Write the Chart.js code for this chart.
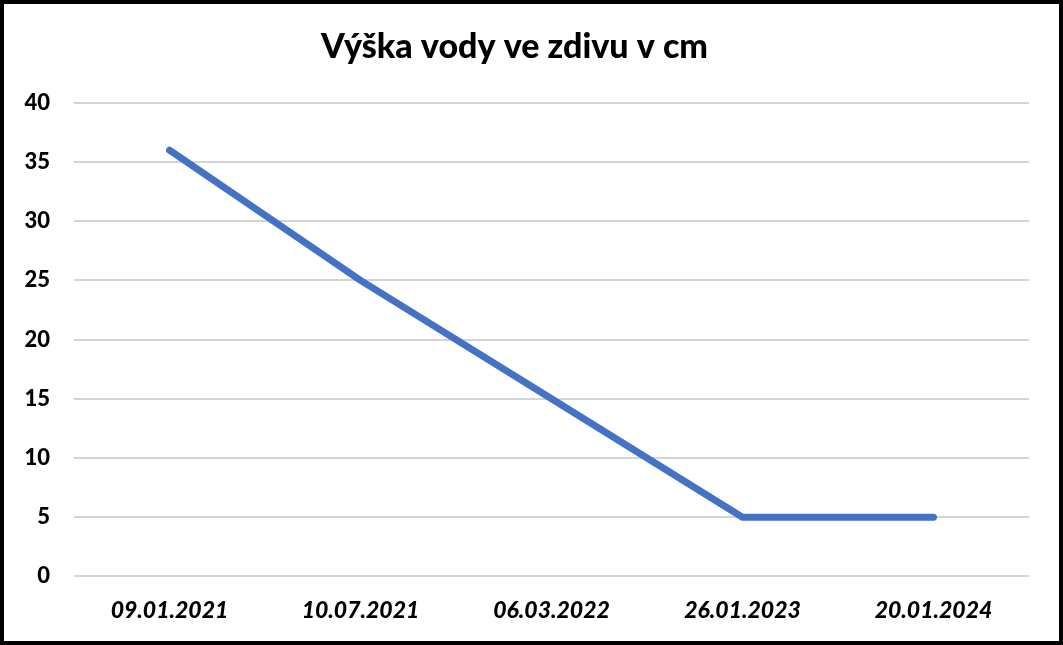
<!DOCTYPE html>
<html>
<head>
<meta charset="utf-8">
<script src="https://cdn.jsdelivr.net/npm/chart.js@4"></script>
<style>
  html, body { margin: 0; padding: 0; background: #fff; }
  #wrap { position: relative; width: 1063px; height: 645px; }
  #chart { position: absolute; left: 0; top: 0; }
  #frame { position: absolute; left: 0; top: 0; width: 1063px; height: 645px; box-sizing: border-box; border: 4px solid #000; pointer-events: none; }
</style>
</head>
<body>
<div id="wrap">
  <canvas id="chart" width="1063" height="645"></canvas>
  <div id="frame"></div>
</div>
<script>
/* data */
const dates = ['09.01.2021', '10.07.2021', '06.03.2022', '26.01.2023', '20.01.2024'];
const heights = [36, 25, 15, 5, 5];
const yTicks = [0, 5, 10, 15, 20, 25, 30, 35, 40];

const FONT = 'Lato, "Open Sans", sans-serif';

new Chart(document.getElementById('chart'), {
  type: 'line',
  data: {
    labels: dates,
    datasets: [{
      label: 'Výška vody',
      data: heights,
      borderColor: '#4472c4',
      borderWidth: 7,
      borderCapStyle: 'round',
      borderJoinStyle: 'round',
      pointRadius: 0,
      tension: 0,
      fill: false
    }]
  },
  options: {
    responsive: false,
    animation: false,
    layout: { padding: { left: 0, right: 34, top: 15, bottom: 1 } },
    plugins: {
      legend: { display: false },
      tooltip: { enabled: false },
      title: {
        display: true,
        text: 'Výška vody ve zdivu v cm',
        color: '#000',
        font: { family: FONT, size: 34, weight: '900' },
        padding: { top: 12, bottom: 35 }
      }
    },
    scales: {
      x: {
        offset: true,
        grid: { display: false, drawTicks: false },
        border: { display: false },
        ticks: {
          color: '#000',
          padding: 20,
          maxRotation: 0,
          font: { family: FONT, size: 23, weight: '900', style: 'italic' }
        }
      },
      y: {
        min: yTicks[0],
        max: yTicks[yTicks.length - 1],
        afterFit(scale) { scale.width = 74; },
        afterBuildTicks(scale) { scale.ticks = yTicks.map(v => ({ value: v })); },
        grid: { color: '#d4d4d4', lineWidth: 2, drawTicks: false },
        border: { display: false },
        ticks: {
          color: '#000',
          padding: 24,
          font: { family: FONT, size: 22, weight: '900' }
        }
      }
    }
  }
});
</script>
</body>
</html>
